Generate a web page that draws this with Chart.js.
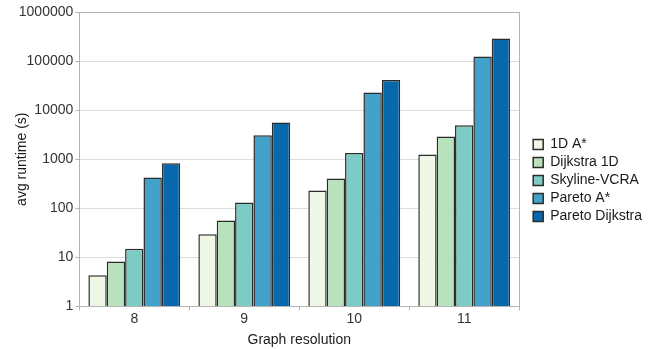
<!DOCTYPE html>
<html>
<head>
<script src="https://cdn.jsdelivr.net/npm/chart.js"></script>
<style>
body { margin: 0; background: #fff; }
#wrap { width: 662px; height: 349px; }
</style>
</head>
<body>
<div id="wrap"><canvas id="runtimeChart"></canvas></div>
<script>
// graph resolutions on the x axis
const resolutions = ['8', '9', '10', '11'];

// avg runtime (s) per method
const oneDAStar      = [4.3, 29.5, 230, 1245];
const dijkstra1D     = [8.2, 56, 403, 2900];
const skylineVCRA    = [15, 131, 1345, 4940];
const paretoAStar    = [423, 3090, 22960, 124500];
const paretoDijkstra = [830, 5610, 40900, 290000];

const yTicks = [1, 10, 100, 1000, 10000, 100000, 1000000];

const seriesNames  = ['1D A*', 'Dijkstra 1D', 'Skyline-VCRA', 'Pareto A*', 'Pareto Dijkstra'];
const seriesData   = [oneDAStar, dijkstra1D, skylineVCRA, paretoAStar, paretoDijkstra];
const seriesColors = ['#eff8e6', '#b8e2bb', '#7ccbc4', '#43a2ca', '#0868ac'];

const FONT = '"Liberation Sans", Arial, sans-serif';
const LEGEND_GAP = 10;

// box round the plot area, like the original spreadsheet chart
const plotFrame = {
    id: 'plotFrame',
    afterDraw(chart) {
        let a = chart.chartArea;
        let ctx = chart.ctx;
        ctx.save();
        ctx.strokeStyle = '#b3b3b3';
        ctx.lineWidth = 1;
        ctx.strokeRect(Math.round(a.left) + 0.5, Math.round(a.top) + 0.5,
                       Math.round(a.right - a.left), Math.round(a.bottom - a.top));
        ctx.restore();
    }
};

// leave some room between the plot and the legend
const legendGap = {
    id: 'legendGap',
    beforeLayout(chart) {
        let lg = chart.legend;
        if (lg && !lg._gapPatched) {
            let fit = lg.fit.bind(lg);
            lg.fit = function () { fit(); this.width += LEGEND_GAP; };
            lg._gapPatched = true;
        }
    },
    afterLayout(chart) {
        if (chart.legend) chart.legend.left += LEGEND_GAP;
    }
};

let ctx = document.getElementById('runtimeChart').getContext('2d');
let chart = new Chart(ctx, {
    type: 'bar',
    data: {
        labels: resolutions,
        datasets: seriesNames.map((name, i) => ({
            label: name,
            data: seriesData[i],
            backgroundColor: seriesColors[i],
            borderColor: '#2b2b2b',
            borderWidth: 1.5,
            categoryPercentage: 0.835,
            barPercentage: 1
        }))
    },
    options: {
        responsive: true,
        maintainAspectRatio: false,
        devicePixelRatio: 1,
        animation: false,
        layout: { padding: { left: 0, top: 12, right: 10, bottom: 0 } },
        font: { family: FONT },
        plugins: {
            tooltip: { enabled: false },
            legend: {
                position: 'right',
                labels: {
                    boxWidth: 10,
                    boxHeight: 10,
                    padding: 4,
                    color: '#1a1a1a',
                    font: { family: FONT, size: 14 }
                }
            }
        },
        scales: {
            x: {
                grid: {
                    offset: true,
                    drawOnChartArea: false,
                    tickLength: 4,
                    color: '#b3b3b3'
                },
                border: { color: '#b3b3b3' },
                ticks: {
                    color: '#333333',
                    padding: 0,
                    font: { family: FONT, size: 14 }
                },
                title: {
                    display: true,
                    text: 'Graph resolution',
                    color: '#1a1a1a',
                    padding: { top: 5, bottom: 0 },
                    font: { family: FONT, size: 14 }
                }
            },
            y: {
                type: 'logarithmic',
                min: 1,
                max: 1000000,
                afterBuildTicks(axis) {
                    axis.ticks = yTicks.map(v => ({ value: v }));
                },
                grid: {
                    color: '#dddddd',
                    tickLength: 4,
                    tickColor: '#b3b3b3'
                },
                border: { color: '#b3b3b3' },
                ticks: {
                    color: '#333333',
                    padding: 2,
                    callback: v => String(v),
                    font: { family: FONT, size: 14 }
                },
                title: {
                    display: true,
                    text: 'avg runtime (s)',
                    color: '#1a1a1a',
                    padding: { top: 14, bottom: -14 },
                    font: { family: FONT, size: 14 }
                }
            }
        }
    },
    plugins: [plotFrame, legendGap]
});
</script>
</body>
</html>
